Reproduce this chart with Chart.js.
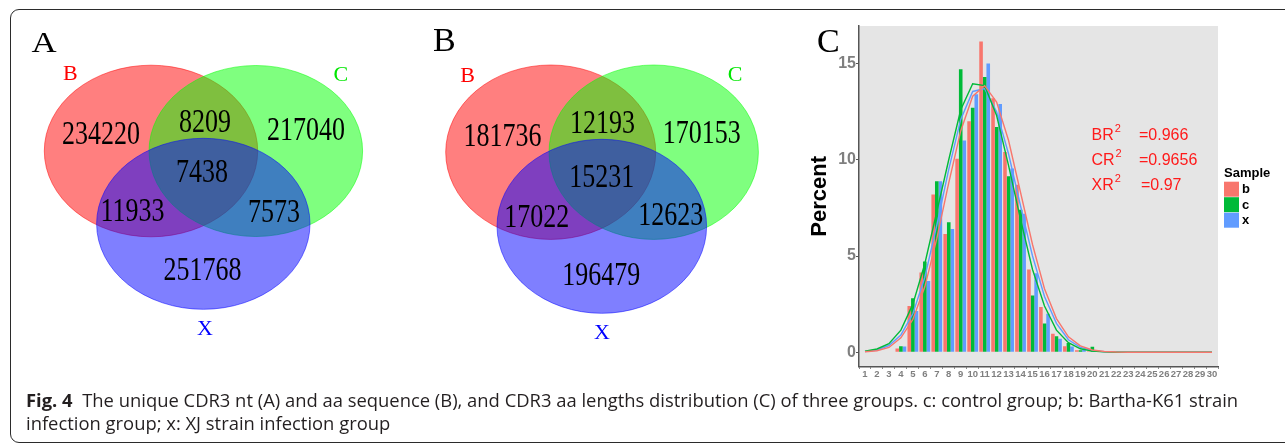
<!DOCTYPE html>
<html>
<head>
<meta charset="utf-8">
<script src="https://cdn.jsdelivr.net/npm/chart.js@4.4.0/dist/chart.umd.min.js"></script>
<style>
  body { margin: 0; width: 1285px; height: 444px; overflow: hidden; background: #fff; position: relative; }
  .frame { position: absolute; left: 10px; top: 9px; width: 1300px; height: 432px; border: 1.5px solid #2b2b2b; border-radius: 9px; }
  canvas { position: absolute; top: 0; }
  #vennA { left: 0; }
  #vennB { left: 400px; }
  #lengths { left: 790px; }
  .caption { position: absolute; left: 26px; top: 388px; font: 18.4px 'Open Sans', sans-serif; line-height: 23.3px; color: #231f20; white-space: nowrap; }
  .caption b { font-weight: 700; }
</style>
</head>
<body>
<div class="frame"></div>
<canvas id="vennA" width="400" height="370"></canvas>
<canvas id="vennB" width="400" height="370"></canvas>
<canvas id="lengths" width="495" height="395"></canvas>
<div class="caption"><b>Fig. 4</b>&nbsp; The unique CDR3 nt (A) and aa sequence (B), and CDR3 aa lengths distribution (C) of three groups. c: control group; b: Bartha-K61 strain<br>infection group; x: XJ strain infection group</div>

<script>
// venn data: B only, B&C, C only, B&C&X, B&X, C&X, X only
const vennSets = ['B', 'C', 'X'];
const ntCounts = [234220, 8209, 217040, 7438, 11933, 7573, 251768];
const aaCounts = [181736, 12193, 170153, 15231, 17022, 12623, 196479];

// CDR3 aa length distribution (percent)
const lengths = ['1','2','3','4','5','6','7','8','9','10','11','12','13','14','15','16','17','18','19','20','21','22','23','24','25','26','27','28','29','30'];
const samples = ['b', 'c', 'x'];
const pctB = [0, 0, 0, 0.2, 2.4, 4.15, 8.2, 6.15, 10.05, 12.0, 16.15, 13.2, 10.4, 8.7, 4.3, 2.35, 0.96, 0.31, 0.1, 0.05, 0, 0, 0, 0, 0, 0, 0, 0, 0, 0];
const pctC = [0, 0, 0, 0.31, 2.8, 4.72, 8.88, 6.75, 14.7, 12.7, 14.3, 11.7, 9.15, 7.4, 2.95, 1.5, 0.83, 0.48, 0.1, 0.28, 0, 0, 0, 0, 0, 0, 0, 0, 0, 0];
const pctX = [0, 0, 0, 0.3, 2.15, 3.7, 8.88, 6.4, 11.0, 13.4, 15.0, 12.9, 9.55, 7.2, 4.1, 2.0, 0.7, 0.3, 0.12, 0.05, 0, 0, 0, 0, 0, 0, 0, 0, 0, 0];
// fitted curves
const fitB = [0.03, 0.08, 0.25, 0.75, 1.7, 3.4, 5.9, 8.8, 11.5, 13.3, 13.85, 13.0, 11.0, 8.3, 5.6, 3.3, 1.75, 0.8, 0.33, 0.12, 0.04, 0.01, 0, 0, 0, 0, 0, 0, 0, 0];
const fitC = [0.05, 0.17, 0.45, 1.15, 2.5, 4.6, 7.3, 10.0, 12.6, 13.95, 13.85, 12.3, 9.7, 6.9, 4.3, 2.4, 1.15, 0.5, 0.18, 0.06, 0.02, 0, 0, 0, 0, 0, 0, 0, 0, 0];
const fitX = [0.04, 0.12, 0.35, 0.9, 2.0, 3.9, 6.6, 9.5, 12.1, 13.55, 13.7, 12.5, 10.3, 7.6, 5.0, 2.9, 1.5, 0.65, 0.25, 0.09, 0.03, 0, 0, 0, 0, 0, 0, 0, 0, 0];
const yTicks = [0, 5, 10, 15];
const r2Names = ['BR', 'CR', 'XR'];
const r2Values = ['0.966', '0.9656', '0.97'];

Chart.defaults.font.family = "'Liberation Sans', Arial, sans-serif";
Chart.defaults.animation = false;

const vennFill = ['rgba(255,0,0,0.5)', 'rgba(0,255,0,0.5)', 'rgba(0,0,255,0.5)'];
const vennText = ['#ff0000', '#00e600', '#0000ff'];

const vennPlugin = {
  id: 'venn',
  beforeDatasetsDraw(chart, args, o) {
    const { ctx, scales: { x, y } } = chart;
    ctx.save();
    o.ellipses.forEach((e, i) => {
      const cx = x.getPixelForValue(e[0]), cy = y.getPixelForValue(e[1]);
      const rx = Math.abs(x.getPixelForValue(e[0] + e[2]) - cx);
      const ry = Math.abs(y.getPixelForValue(e[1] + e[3]) - cy);
      ctx.beginPath();
      ctx.ellipse(cx, cy, rx, ry, 0, 0, Math.PI * 2);
      ctx.fillStyle = vennFill[i];
      ctx.fill();
      ctx.lineWidth = 1;
      ctx.strokeStyle = vennFill[i];
      ctx.stroke();
    });
    ctx.restore();
  },
  afterDatasetsDraw(chart, args, o) {
    const { ctx, scales: { x, y } } = chart;
    const ds = chart.data.datasets[0];
    ctx.save();
    ctx.textAlign = 'center';
    ctx.fillStyle = '#000';
    chart.getDatasetMeta(0).data.forEach((pt, i) => {
      ctx.save();
      ctx.translate(pt.x, pt.y);
      ctx.scale(1, 1.28);
      ctx.font = "26px 'Liberation Serif'";
      ctx.fillText(String(ds.data[i].v), 0, 8.8);
      ctx.restore();
    });
    ctx.font = "22px 'Liberation Serif'";
    o.setLabels.forEach((p, i) => {
      ctx.fillStyle = vennText[i];
      ctx.fillText(vennSets[i], x.getPixelForValue(p[0]), y.getPixelForValue(p[1]));
    });
    // panel letter
    ctx.textAlign = 'left';
    ctx.fillStyle = '#000';
    ctx.translate(o.letter[1], o.letter[2]);
    ctx.scale(o.letter[4], 1);
    ctx.font = o.letter[3] + "px 'Liberation Serif'";
    ctx.fillText(o.letter[0], 0, 0);
    ctx.restore();
  }
};

function makeVenn(id, counts, spots, ellipses, setLabels, letter) {
  new Chart(document.getElementById(id), {
    type: 'scatter',
    data: {
      datasets: [{
        data: counts.map((v, i) => ({ x: spots[i][0], y: spots[i][1], v: v })),
        pointRadius: 0
      }]
    },
    options: {
      responsive: false,
      events: [],
      layout: { padding: 0 },
      scales: {
        x: { type: 'linear', min: 0, max: 400, display: false },
        y: { type: 'linear', min: 0, max: 370, reverse: true, display: false }
      },
      plugins: {
        legend: { display: false },
        tooltip: { enabled: false },
        venn: { ellipses: ellipses, setLabels: setLabels, letter: letter }
      }
    },
    plugins: [vennPlugin]
  });
}

makeVenn('vennA', ntCounts,
  [[101, 133], [205, 121], [306, 129], [202, 170.5], [132.5, 209.7], [274, 210.8], [202.5, 268.8]],
  [[151, 151, 106.7, 85.8], [255.8, 151, 106.8, 85.5], [203.3, 223.8, 106.7, 85.5]],
  [[70.3, 80], [340.8, 81], [205, 335]],
  ['A', 31.5, 51.7, 29, 1.2]);

makeVenn('vennB', aaCounts,
  [[102.5, 134.5], [202.5, 121.7], [301.7, 131.7], [201.7, 176.2], [136.7, 215.3], [270.7, 213.3], [201.2, 273.3]],
  [[150.7, 152.2, 105, 87.2], [253.7, 152.2, 104.7, 87.2], [201.8, 226.3, 104.8, 87]],
  [[67.7, 82], [335, 81], [202, 339]],
  ['B', 33, 51, 34, 1]);

// panel C
const sampleColors = ['#F8766D', '#00BA38', '#619CFF'];

const panelBg = {
  id: 'panelBg',
  beforeDraw(chart) {
    const { ctx, chartArea: a } = chart;
    ctx.save();
    ctx.fillStyle = '#e5e5e5';
    ctx.fillRect(a.left, a.top, a.right - a.left, a.bottom - a.top);
    ctx.restore();
  }
};

const extras = {
  id: 'extras',
  afterDraw(chart) {
    const ctx = chart.ctx;
    ctx.save();
    // panel letter
    ctx.fillStyle = '#000';
    ctx.font = "34px 'Liberation Serif'";
    ctx.textAlign = 'left';
    ctx.fillText('C', 27, 52);
    // R squared notes
    ctx.fillStyle = '#ff1a1a';
    r2Names.forEach((n, i) => {
      const base = 140 + i * 25;
      ctx.font = "16px 'Liberation Sans'";
      ctx.fillText(n, 301.5, base);
      const w = ctx.measureText(n).width;
      ctx.font = "11px 'Liberation Sans'";
      ctx.fillText('2', 301.5 + w + 1, base - 8);
      ctx.font = "16px 'Liberation Sans'";
      ctx.fillText('=' + r2Values[i], i === 2 ? 351 : 349, base);
    });
    // legend
    ctx.fillStyle = '#000';
    ctx.font = "bold 13px 'Liberation Sans'";
    ctx.fillText('Sample', 434, 177);
    chart.data.datasets.filter(d => d.type === 'bar').forEach((d, i) => {
      const top = 181.7 + i * 15.5;
      ctx.fillStyle = d.backgroundColor;
      ctx.fillRect(434, top, 15, 15);
      ctx.fillStyle = '#000';
      ctx.textBaseline = 'middle';
      ctx.fillText(d.label, 452, top + 8);
    });
    ctx.restore();
  }
};

new Chart(document.getElementById('lengths'), {
  data: {
    labels: lengths,
    datasets: [
      { type: 'line', label: 'fit b', data: fitB, borderColor: sampleColors[0], borderWidth: 1.4, pointRadius: 0, tension: 0, order: 0 },
      { type: 'line', label: 'fit c', data: fitC, borderColor: sampleColors[1], borderWidth: 1.4, pointRadius: 0, tension: 0, order: 0 },
      { type: 'line', label: 'fit x', data: fitX, borderColor: sampleColors[2], borderWidth: 1.4, pointRadius: 0, tension: 0, order: 0 },
      { type: 'bar', label: samples[0], data: pctB, backgroundColor: sampleColors[0], order: 1 },
      { type: 'bar', label: samples[1], data: pctC, backgroundColor: sampleColors[1], order: 1 },
      { type: 'bar', label: samples[2], data: pctX, backgroundColor: sampleColors[2], order: 1 }
    ]
  },
  options: {
    responsive: false,
    events: [],
    layout: { padding: { top: 26, right: 67, bottom: 0, left: 0 } },
    datasets: { bar: { barPercentage: 1, categoryPercentage: 0.9, borderWidth: 0 } },
    scales: {
      x: {
        type: 'category',
        offset: true,
        grid: { drawOnChartArea: false, tickLength: 2, tickColor: '#555' },
        border: { display: true, color: '#555', width: 1.5 },
        ticks: { autoSkip: false, maxRotation: 0, minRotation: 0, padding: 0, color: '#7f7f7f', font: { size: 9.5, weight: 'bold' } },
        afterFit(s) { s.height = 28.3; }
      },
      y: {
        min: -0.75,
        max: 16.95,
        grid: { drawOnChartArea: false, tickLength: 3, tickColor: '#555' },
        border: { display: true, color: '#555', width: 1.5 },
        ticks: { padding: 0, color: '#7f7f7f', font: { size: 16, weight: 'bold' } },
        afterBuildTicks(s) { s.ticks = yTicks.map(v => ({ value: v })); },
        title: { display: true, text: 'Percent', color: '#000', font: { size: 22, weight: 'bold' }, padding: { top: 17, bottom: 0 } },
        afterFit(s) { s.width = 69; }
      }
    },
    plugins: { legend: { display: false }, tooltip: { enabled: false } }
  },
  plugins: [panelBg, extras]
});
</script>
</body>
</html>
